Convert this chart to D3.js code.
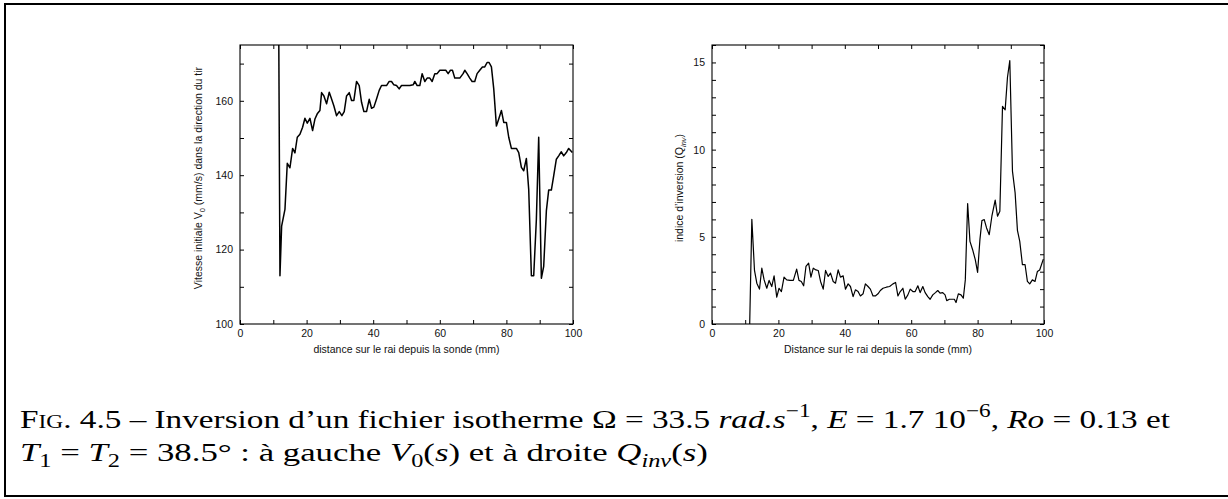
<!DOCTYPE html>
<html><head><meta charset="utf-8">
<script src="https://cdn.jsdelivr.net/npm/d3@7"></script>
<style>html,body{margin:0;padding:0;background:#fff;}svg{display:block;}</style>
</head><body>
<svg id="c" width="1228" height="499"></svg>
<script>
// ---------- data ----------
const leftDist = [11.6,12,12.5,13.5,14.2,15,15.8,16.5,17.2,18,18.8,19.5,20.2,21,21.8,22.5,23.2,24,24.5,25.2,26,26.8,27.5,28.2,29,29.8,30.6,31.3,32,32.8,33.5,34.2,35,35.8,36.5,37.2,38,38.8,39.5,40.2,41,41.8,42.5,43.2,44,44.8,45.5,46.2,47,47.8,48.5,49.2,50,51,52,52.5,53.2,54,54.7,55.5,56.2,57,57.7,58.5,59.2,60,61,61.8,62.5,63.2,63.8,64.5,65.2,66,67,67.5,68.2,69,69.7,70.5,71.2,72,72.8,73.5,74.2,74.8,75.5,76.2,77,77.7,78.5,79.2,80,80.7,81.5,82.2,83,83.7,84.5,85.2,86,86.7,87.5,88.2,89,89.7,90.5,91.2,92,92.7,93.5,94.2,95,95.7,96.5,97.2,98,98.7,99.8];
const leftV0 = [185,113,126.3,130.8,143.2,142,147.2,146,150.2,151,152.9,155.3,154,155.3,152,155.1,156.5,157.4,162.2,161.3,159.2,162.3,160.5,158.6,156,157.1,156,157.1,161.3,162.2,160.1,160.1,165.2,164.1,159.6,157.1,157.1,160.4,158,158.3,160.5,162.8,164.1,164.1,164.1,165.2,165.2,164.3,164.1,163.2,164.1,164.1,164.1,164.1,164.3,165.2,164.1,164.1,167.3,165.2,166.1,166.1,165.2,167.3,167.3,168.2,168.2,168.2,167.3,168.2,168.2,166.1,166.1,166.1,167.3,168.2,167.3,166.1,165.2,165.2,167.3,168.2,169.1,169.1,170.3,170.3,169.1,163.2,153.2,155.1,157.4,154.2,154.2,150.2,147.2,147.2,147.2,146.1,142.1,141.2,144.5,136.2,113,113,128.1,150.2,112.3,115.5,130.4,136,136,139.8,144.3,145.2,146.3,145.2,146.1,147.2,146.1];

const rightDist = [11.3,12,12.8,13.5,14.3,15,15.7,16.5,17.2,18,18.7,19.5,20.2,20.9,21.7,22.5,23.5,24.5,25.5,26.2,26.9,27.6,28.3,29.1,29.8,30.5,31.3,32,32.7,33.5,34.2,35,35.7,36.5,37.2,38,38.7,39.5,40.2,41,41.7,42.5,43.2,44,44.7,45.5,46.2,47,47.7,48.5,49.2,50,50.7,51.5,52.5,53.5,54.5,55.3,56,56.7,57.5,58.2,59,59.7,60.5,61.2,62,62.7,63.5,64.2,65,65.7,66.5,67.3,68,68.7,69.5,70.2,70.7,71.5,72.3,73,73.5,74.2,75,75.7,76.3,77,77.7,78.5,79.3,80,80.7,81.3,82,82.7,83.5,84.3,85.3,86,86.7,87.5,88.3,89,89.7,90.5,91.3,92,92.7,93.5,94.3,95,95.7,96.5,97.3,98,98.7,99.8];
const rightQ = [-0.5,6.0,3.07,2.34,2.0,3.2,2.53,2.05,2.5,2.15,2.76,1.54,2.05,1.86,2.69,2.53,2.5,2.5,3.15,2.5,2.44,2.19,3.3,3.49,2.69,3.2,3.1,3.07,2.44,2.0,3.07,2.73,2.92,2.44,2.34,3.1,2.69,2.76,2.0,2.3,2.15,1.57,1.96,1.86,1.61,1.73,2.3,2.15,2.0,1.61,1.61,1.73,1.92,2.05,2.11,2.15,2.3,2.38,1.61,1.86,2.05,1.42,1.67,2.0,1.86,1.86,2.19,1.8,2.15,1.8,1.57,1.42,1.67,1.8,1.92,1.77,1.8,1.67,1.34,1.42,1.42,1.42,1.23,1.73,1.67,1.48,2.53,6.91,4.74,4.26,3.69,2.96,4.84,5.93,5.99,5.51,5.12,6.18,7.1,6.18,6.47,12.48,12.28,14.15,15.1,8.77,7.52,5.37,4.74,3.4,3.4,2.44,2.3,2.53,2.44,3.01,3.1,3.72];

const xTickLabels = [0,20,40,60,80,100];
const xMinorTicks = [0,10,20,30,40,50,60,70,80,90,100];
const leftYTickLabels = [100,120,140,160];
const leftYMinorTicks = [100,110,120,130,140,150,160,170];
const rightYTickLabels = [0,5,10,15];
const rightYMinorTicks = [0,1,2,3,4,5,6,7,8,9,10,11,12,13,14,15,16];

const leftTitleX = "distance sur le rai depuis la sonde (mm)";
const rightTitleX = "Distance sur le rai depuis la sonde (mm)";

// ---------- drawing ----------
const svg = d3.select("#c");
const sans = "'Liberation Sans', Arial, sans-serif";

// frame
svg.append("line").attr("x1",5).attr("x2",1228).attr("y1",4).attr("y2",4).attr("stroke","#000").attr("stroke-width",2);
svg.append("line").attr("x1",5).attr("x2",5).attr("y1",3).attr("y2",497).attr("stroke","#000").attr("stroke-width",2);
svg.append("line").attr("x1",4).attr("x2",1228).attr("y1",496).attr("y2",496).attr("stroke","#000").attr("stroke-width",2);

function panel(cfg){
  const g = svg.append("g");
  const x = d3.scaleLinear().domain([0,100]).range([cfg.x0,cfg.x1]);
  const y = d3.scaleLinear().domain(cfg.yDomain).range([cfg.y1,cfg.y0]);
  const id = "clip"+cfg.id;
  svg.append("clipPath").attr("id",id).append("rect")
    .attr("x",cfg.x0).attr("y",cfg.y0).attr("width",cfg.x1-cfg.x0).attr("height",cfg.y1-cfg.y0);

  // minor ticks (inward, mirrored)
  const tickLen = 4;
  const bottomAx = d3.axisBottom(x).tickValues(xMinorTicks).tickSize(-tickLen).tickFormat("");
  const topAx = d3.axisTop(x).tickValues(xMinorTicks).tickSize(-tickLen).tickFormat("");
  const leftAx = d3.axisLeft(y).tickValues(cfg.yMinor).tickSize(-tickLen).tickFormat("");
  const rightAx = d3.axisRight(y).tickValues(cfg.yMinor).tickSize(-tickLen).tickFormat("");
  [[bottomAx,`translate(0,${cfg.y1})`],[topAx,`translate(0,${cfg.y0})`],[leftAx,`translate(${cfg.x0},0)`],[rightAx,`translate(${cfg.x1},0)`]].forEach(([ax,t])=>{
    const a = g.append("g").attr("transform",t).call(ax);
    a.select(".domain").remove();
    a.selectAll("line").attr("stroke","#000").attr("stroke-width",1);
  });

  // labels
  const lx = d3.axisBottom(x).tickValues(xTickLabels).tickSize(0).tickPadding(0).tickFormat(d3.format("d"));
  const ax1 = g.append("g").attr("transform",`translate(0,${cfg.y1+13})`).call(lx);
  ax1.select(".domain").remove();
  ax1.selectAll("text").attr("dy",0).attr("y",0).attr("font-family",sans).attr("font-size",10.5).attr("fill","#111");
  const ly = d3.axisLeft(y).tickValues(cfg.yLabels).tickSize(0).tickPadding(0).tickFormat(d3.format("d"));
  const ax2 = g.append("g").attr("transform",`translate(${cfg.x0-7},0)`).call(ly);
  ax2.select(".domain").remove();
  ax2.selectAll("text").attr("font-family",sans).attr("font-size",10.5).attr("fill","#111");

  // box
  g.append("rect").attr("x",cfg.x0).attr("y",cfg.y0).attr("width",cfg.x1-cfg.x0).attr("height",cfg.y1-cfg.y0)
    .attr("fill","none").attr("stroke","#000").attr("stroke-width",1.1);

  // curve
  const line = d3.line().x(d=>x(d[0])).y(d=>y(d[1]));
  g.append("path").datum(d3.zip(cfg.xs,cfg.ys)).attr("clip-path",`url(#${id})`)
    .attr("d",line).attr("fill","none").attr("stroke","#000").attr("stroke-width",cfg.lw).attr("stroke-linejoin","round");

  // x title
  g.append("text").attr("x",(cfg.x0+cfg.x1)/2).attr("y",cfg.y1+29).attr("text-anchor","middle")
    .attr("font-family",sans).attr("font-size",10.5).attr("fill","#111").text(cfg.xTitle);
  // y title
  const yt = g.append("text").attr("transform",`translate(${cfg.ytx},${cfg.yty}) rotate(-90)`)
    .attr("text-anchor","middle").attr("font-family",sans).attr("font-size",10.5).attr("fill","#111");
  cfg.yTitle.forEach(s=>{
    const t = yt.append("tspan").text(s.t);
    if(s.sub){ t.attr("font-size",7.5).attr("dy",3); }
    if(s.back){ t.attr("dy",-3); }
    if(s.i){ t.attr("font-style","italic"); }
  });
}

panel({id:"L",x0:240,x1:573,y0:45,y1:324,yDomain:[100,175],yMinor:leftYMinorTicks,yLabels:leftYTickLabels,
  xs:leftDist,ys:leftV0,lw:1.5,xTitle:leftTitleX,ytx:202,yty:178,
  yTitle:[{t:"Vitesse initiale V"},{t:"0",sub:true},{t:" (mm/s) dans la direction du tir",back:true}]});
panel({id:"R",x0:712,x1:1044,y0:45,y1:324,yDomain:[0,16],yMinor:rightYMinorTicks,yLabels:rightYTickLabels,
  xs:rightDist,ys:rightQ,lw:1.2,xTitle:rightTitleX,ytx:683,yty:188,
  yTitle:[{t:"indice d’inversion (Q"},{t:"inv",sub:true,i:true},{t:")",back:true}]});

// ---------- caption ----------
const serif = "'Liberation Serif','Times New Roman',serif";
const capSize = 26;
function captionLine(segs){
  const t = svg.append("text").attr("x",0).attr("y",0).attr("font-family",serif).attr("font-size",capSize).attr("fill","#000");
  let shift = 0;
  segs.forEach(s=>{
    const sp = t.append("tspan").text(s.t);
    let target = 0;
    if(s.sup) target = -0.42*capSize;
    if(s.sub) target = 0.22*capSize;
    const dy = target - shift;
    if(dy!==0) sp.attr("dy",dy);
    shift = target;
    if(s.sup||s.sub) sp.attr("font-size",capSize*0.7);
    if(s.i) sp.attr("font-style","italic");
    if(s.sc) sp.attr("font-variant","small-caps");
  });
  return t;
}
const l1 = captionLine([
  {t:"Fig.",sc:true},{t:" 4.5 – Inversion d’un fichier isotherme Ω = 33.5 "},{t:"rad.s",i:true},{t:"−1",sup:true},
  {t:", "},{t:"E",i:true},{t:" = 1.7 10"},{t:"−6",sup:true},{t:", "},{t:"Ro",i:true},{t:" = 0.13 et"}
]);
const l2 = captionLine([
  {t:"T",i:true},{t:"1",sub:true},{t:" = "},{t:"T",i:true},{t:"2",sub:true},{t:" = 38.5° : à gauche "},
  {t:"V",i:true},{t:"0",sub:true},{t:"("},{t:"s",i:true},{t:") et à droite "},{t:"Q",i:true},{t:"inv",sub:true,i:true},
  {t:"("},{t:"s",i:true},{t:")"}
]);
const capX0 = 20, capX1 = 1170, cap2X1 = 708;
const sx1 = (capX1-capX0)/l1.node().getComputedTextLength();
const sx2 = (cap2X1-capX0)/l2.node().getComputedTextLength();
l1.attr("transform",`translate(${capX0},428) scale(${sx1},1)`);
l2.attr("transform",`translate(${capX0},461) scale(${sx2},1)`);
</script>
</body></html>
